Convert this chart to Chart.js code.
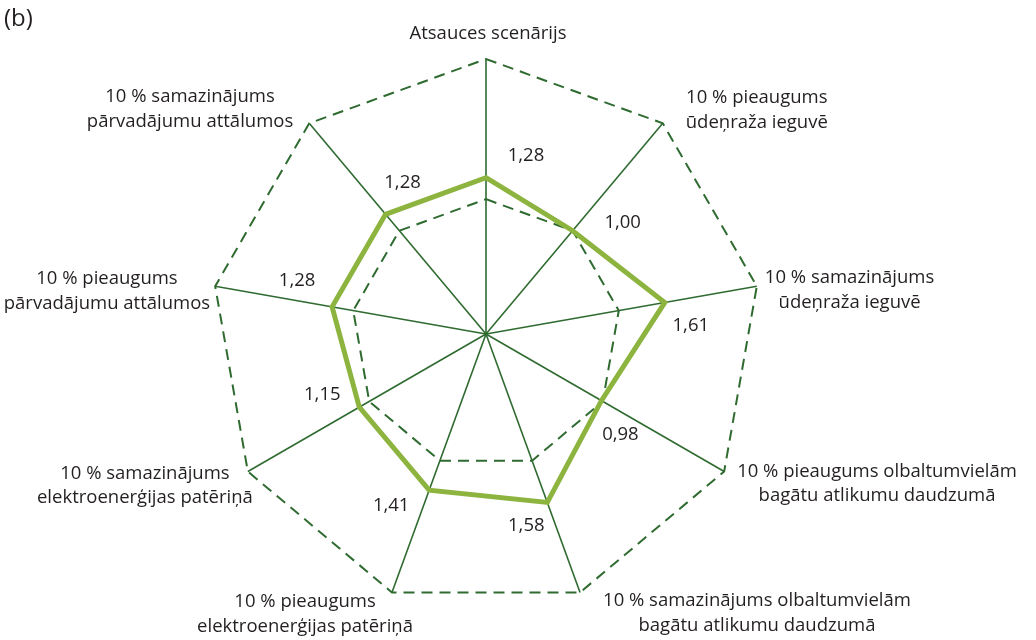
<!DOCTYPE html>
<html>
<head>
<meta charset="utf-8">
<script src="https://cdn.jsdelivr.net/npm/chart.js@4.4.1/dist/chart.umd.min.js"></script>
<style>
  html, body { margin: 0; padding: 0; background: #fff; }
  #wrap { width: 1036px; height: 640px; }
</style>
</head>
<body>
<div id="wrap"><canvas id="radarChart" width="1036" height="640"></canvas></div>
<script>
// Asis (kategorijas), pulksteņrādītāja virzienā no augšas
const categories = [
    ['Atsauces scenārijs'],
    ['10 % pieaugums', 'ūdeņraža ieguvē'],
    ['10 % samazinājums', 'ūdeņraža ieguvē'],
    ['10 % pieaugums olbaltumvielām', 'bagātu atlikumu daudzumā'],
    ['10 % samazinājums olbaltumvielām', 'bagātu atlikumu daudzumā'],
    ['10 % pieaugums', 'elektroenerģijas patēriņā'],
    ['10 % samazinājums', 'elektroenerģijas patēriņā'],
    ['10 % pieaugums', 'pārvadājumu attālumos'],
    ['10 % samazinājums', 'pārvadājumu attālumos']
];

// Vērtības
const values = [1.28, 1.00, 1.61, 0.98, 1.58, 1.41, 1.15, 1.28, 1.28];

// Skalas robežas un režģa līnijas (1,00 = iekšējā raustītā līnija)
const gridTicks = [-0.76, 1.00, 2.83];

// Krāsas un fonts
const darkGreen = '#2f6b30';
const lightGreen = '#8cb43f';
const textColor = '#231f20';
const fontSize = 18.5;
const lineHeight = 24.5;

// Asu nosaukumu novietojums: [līdzinājums, dx, dy] attiecībā pret ass galu
const axisLabelPos = [
    ['center', 2, -25],
    ['left', 23, -13],
    ['left', 8, 4],
    ['left', 13, 12],
    ['left', 23, 21],
    ['right', 21, 22],
    ['right', 5, 14],
    ['right', -5, 5],
    ['right', -16, -14]
];

// Vērtību uzrakstu nobīde no punkta
const valueLabelOffset = [
    [40, -22], [50, -8], [26, 23], [19, 34], [-21, 23],
    [-38, 16], [-37, -12], [-35, -26], [17, -32]
];

// Uzraksti (asu nosaukumi, vērtības, "(b)")
const labelPlugin = {
    id: 'radarLabels',
    afterDraw(chart) {
        const s = chart.scales.r;
        const ctx = chart.ctx;
        ctx.save();
        ctx.fillStyle = textColor;
        ctx.font = fontSize + 'px "Open Sans"';
        ctx.textBaseline = 'middle';
        ctx.textAlign = 'center';

        categories.forEach((lines, i) => {
            const p = s.getPointPosition(i, s.drawingArea);
            const [align, dx, dy] = axisLabelPos[i];
            const w = Math.max(...lines.map(l => ctx.measureText(l).width));
            let cx = p.x + dx;
            if (align === 'left') cx += w / 2;
            else if (align === 'right') cx -= w / 2;
            const top = p.y + dy - (lines.length - 1) * lineHeight / 2;
            lines.forEach((l, k) => ctx.fillText(l, cx, top + k * lineHeight));
        });

        const meta = chart.getDatasetMeta(0);
        meta.data.forEach((pt, i) => {
            const [ox, oy] = valueLabelOffset[i];
            ctx.fillText(values[i].toFixed(2).replace('.', ','), pt.x + ox, pt.y + oy);
        });

        ctx.textAlign = 'left';
        ctx.font = '24px "Open Sans"';
        ctx.fillText('(b)', 4, 19);
        ctx.restore();
    }
};

const ctx = document.getElementById('radarChart').getContext('2d');
const chartInstance = new Chart(ctx, {
    type: 'radar',
    data: {
        labels: categories,
        datasets: [{
            data: values,
            borderColor: lightGreen,
            borderWidth: 5,
            borderJoinStyle: 'miter',
            backgroundColor: 'rgba(0,0,0,0)',
            fill: false,
            pointRadius: 0,
            pointHoverRadius: 0,
            tension: 0
        }]
    },
    options: {
        responsive: false,
        animation: false,
        events: [],
        layout: {
            padding: { left: 211, right: 275, top: 59, bottom: 31 }
        },
        plugins: {
            legend: { display: false },
            tooltip: { enabled: false }
        },
        scales: {
            r: {
                min: gridTicks[0],
                max: gridTicks[gridTicks.length - 1],
                afterBuildTicks: (scale) => {
                    scale.ticks = gridTicks.map(v => ({ value: v }));
                },
                afterFit: (scale) => {
                    scale.xCenter = Math.floor((scale.left + scale.right) / 2);
                    scale.yCenter = Math.floor((scale.top + scale.bottom) / 2);
                    scale.drawingArea = Math.min(scale.right - scale.left, scale.bottom - scale.top) / 2;
                },
                ticks: { display: false },
                pointLabels: { display: false },
                angleLines: { color: darkGreen, lineWidth: 1.6 },
                grid: {
                    color: (c) => c.index === 0 ? 'rgba(0,0,0,0)' : darkGreen,
                    lineWidth: 2
                },
                border: { dash: [11, 7] }
            }
        }
    },
    plugins: [labelPlugin]
});
</script>
</body>
</html>
